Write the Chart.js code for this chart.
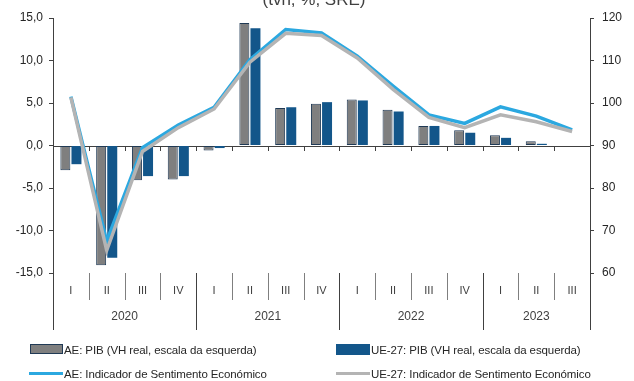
<!DOCTYPE html>
<html>
<head>
<meta charset="utf-8">
<script src="https://cdn.jsdelivr.net/npm/chart.js@4"></script>
<style>
  html, body { margin: 0; padding: 0; background: #fff; }
  #wrap { position: relative; width: 634px; height: 381px; overflow: hidden; font-family: "Liberation Sans", Arial, sans-serif; }
  canvas { position: absolute; left: 0; top: 0; }
  .lg { position: absolute; font-size: 11.5px; color: #262626; white-space: nowrap; line-height: 14px; letter-spacing: -0.1px; }
  .mk { position: absolute; }
</style>
</head>
<body>
<div id="wrap">
  <canvas id="c" width="634" height="381"></canvas>
  <div class="mk" style="left:30px;top:344px;width:31px;height:8px;background:#7f7f7f;border:1.5px solid #203a55;"></div>
  <div class="lg" style="left:64px;top:343px;">AE: PIB (VH real, escala da esquerda)</div>
  <div class="mk" style="left:336px;top:344px;width:34px;height:11px;background:#13568a;"></div>
  <div class="lg" style="left:371px;top:343px;">UE-27: PIB (VH real, escala da esquerda)</div>
  <div class="mk" style="left:29px;top:372px;width:34px;height:3px;background:#2ba8e0;"></div>
  <div class="lg" style="left:64px;top:367px;">AE: Indicador de Sentimento Económico</div>
  <div class="mk" style="left:336px;top:372px;width:34px;height:3px;background:#b4b4b4;"></div>
  <div class="lg" style="left:371px;top:367px;">UE-27: Indicador de Sentimento Económico</div>
</div>
<script>
// Quarters and years on the category axis
const quarters = ['I','II','III','IV','I','II','III','IV','I','II','III','IV','I','II','III'];
const years = ['2020','2021','2022','2023'];
const yearSpans = [4, 4, 4, 3];

// GDP, year-on-year real change (%), left axis
const gdpAE = [-2.9, -14.1, -4.1, -4.0, -0.6, 14.4, 4.4, 4.9, 5.4, 4.2, 2.3, 1.8, 1.2, 0.5, null];
const gdpUE = [-2.2, -13.2, -3.6, -3.6, -0.3, 13.8, 4.5, 5.1, 5.3, 4.0, 2.3, 1.5, 0.9, 0.2, null];

// Economic Sentiment Indicator, right axis
const esiAE = [101.5, 67.5, 89.5, 94.8, 99.0, 110.2, 117.3, 116.5, 111.0, 104.0, 97.2, 95.2, 99.1, 96.9, 93.7];
const esiUE = [101.3, 65.3, 88.6, 94.2, 98.6, 109.6, 116.4, 115.9, 110.6, 103.2, 96.6, 94.2, 97.2, 95.6, 93.3];

const leftTicks = [-15, -10, -5, 0, 5, 10, 15];
const rightTicks = [60, 70, 80, 90, 100, 110, 120];

const axisColor = '#404040';
const labelFont = { family: 'Liberation Sans', size: 12 };

// Title (partly outside the canvas), zero line and two-level category axis
const decor = {
  id: 'decor',
  beforeDatasetsDraw(chart) {
    const { ctx, chartArea } = chart;
    const y = chart.scales.y.getPixelForValue(0);
    const n = quarters.length;
    const w = (chartArea.right - chartArea.left) / n;
    ctx.save();
    ctx.strokeStyle = '#404040';
    ctx.lineWidth = 1;
    ctx.beginPath();
    ctx.moveTo(chartArea.left, Math.round(y) + 0.5);
    ctx.lineTo(chartArea.right, Math.round(y) + 0.5);
    for (let k = 1; k < n; k++) {
      const xx = Math.round(chartArea.left + k * w) + 0.5;
      ctx.moveTo(xx, Math.round(y) + 0.5);
      ctx.lineTo(xx, Math.round(y) + 5);
    }
    ctx.stroke();
    ctx.restore();
  },
  afterDraw(chart) {
    const { ctx, chartArea } = chart;
    const n = quarters.length;
    const w = (chartArea.right - chartArea.left) / n;
    const top = chartArea.bottom;
    ctx.save();
    // title
    ctx.fillStyle = '#404040';
    ctx.font = '17px "Liberation Sans"';
    ctx.textAlign = 'center';
    ctx.textBaseline = 'alphabetic';
    ctx.fillText('(tvh, %, SRE)', 314, 5);

    // quarter separators
    ctx.lineWidth = 1;
    ctx.strokeStyle = '#7f7f7f';
    ctx.beginPath();
    let b = 0;
    const bounds = [0];
    yearSpans.forEach(s => { b += s; bounds.push(b); });
    for (let k = 1; k < n; k++) {
      if (bounds.includes(k)) continue;
      const xx = Math.round(chartArea.left + k * w) + 0.5;
      ctx.moveTo(xx, top);
      ctx.lineTo(xx, top + 27);
    }
    ctx.stroke();
    // year separators
    ctx.strokeStyle = '#404040';
    ctx.beginPath();
    bounds.forEach(k => {
      const xx = Math.round(chartArea.left + k * w) + 0.5;
      ctx.moveTo(xx, top);
      ctx.lineTo(xx, top + 57);
    });
    ctx.stroke();

    // labels
    ctx.fillStyle = '#404040';
    ctx.font = '11px "Liberation Sans"';
    ctx.textBaseline = 'middle';
    quarters.forEach((q, i) => {
      ctx.fillText(q, chartArea.left + (i + 0.5) * w, top + 18);
    });
    ctx.font = '12px "Liberation Sans"';
    yearSpans.forEach((s, i) => {
      const c = chartArea.left + (bounds[i] + s / 2) * w;
      ctx.fillText(years[i], c, top + 44);
    });
    ctx.restore();
  }
};

const fmt = v => v.toFixed(1).replace('.', ',');

new Chart(document.getElementById('c'), {
  data: {
    labels: quarters.map((q, i) => i),
    datasets: [
      { type: 'line', label: 'UE-27: Indicador de Sentimento Económico', data: esiUE, yAxisID: 'y1',
        borderColor: '#b4b4b4', borderWidth: 3.5, pointRadius: 0, tension: 0, order: 1 },
      { type: 'line', label: 'AE: Indicador de Sentimento Económico', data: esiAE, yAxisID: 'y1',
        borderColor: '#2ba8e0', borderWidth: 3.5, pointRadius: 0, tension: 0, order: 2 },
      { type: 'bar', label: 'AE: PIB (VH real, escala da esquerda)', data: gdpAE, yAxisID: 'y',
        backgroundColor: '#7f7f7f', borderColor: '#203a55', borderWidth: 1, borderSkipped: false,
        categoryPercentage: 0.62, barPercentage: 0.9, order: 3 },
      { type: 'bar', label: 'UE-27: PIB (VH real, escala da esquerda)', data: gdpUE, yAxisID: 'y',
        backgroundColor: '#13568a', borderWidth: 0,
        categoryPercentage: 0.62, barPercentage: 0.9, order: 3 }
    ]
  },
  options: {
    responsive: false,
    animation: false,
    layout: { padding: { top: 18, bottom: 108, left: 0, right: 0 } },
    plugins: { legend: { display: false }, tooltip: { enabled: false }, title: { display: false } },
    scales: {
      x: { display: false, offset: true, grid: { display: false } },
      y: {
        position: 'left', min: -15, max: 15,
        afterBuildTicks: s => { s.ticks = leftTicks.map(v => ({ value: v })); },
        afterFit: s => { s.width = 53; },
        grid: { drawOnChartArea: false, drawTicks: true, tickLength: 4, color: axisColor },
        border: { display: true, color: axisColor, width: 1 },
        ticks: { color: '#262626', font: labelFont, padding: 6, callback: fmt }
      },
      y1: {
        position: 'right', min: 60, max: 120,
        afterBuildTicks: s => { s.ticks = rightTicks.map(v => ({ value: v })); },
        afterFit: s => { s.width = 44; },
        grid: { drawOnChartArea: false, drawTicks: true, tickLength: 4, color: axisColor },
        border: { display: true, color: axisColor, width: 1 },
        ticks: { color: '#262626', font: labelFont, padding: 8 }
      }
    }
  },
  plugins: [decor]
});
</script>
</body>
</html>
